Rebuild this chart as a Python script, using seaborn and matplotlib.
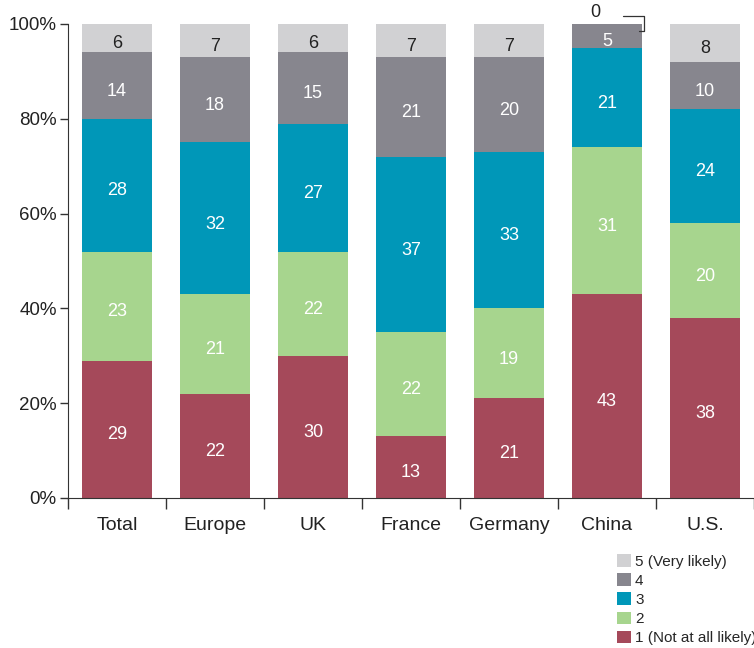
import numpy as np
import pandas as pd
import matplotlib
matplotlib.use("Agg")
import matplotlib.pyplot as plt
from matplotlib.ticker import FixedLocator, PercentFormatter
import seaborn as sns

# ----------------------------------------------------------
# DATA
# ----------------------------------------------------------
regions = ["Total", "Europe", "UK", "France", "Germany", "China", "U.S."]
levels = ["1 (Not at all likely)", "2", "3", "4", "5 (Very likely)"]

lvl1 = [29, 22, 30, 13, 21, 43, 38]
lvl2 = [23, 21, 22, 22, 19, 31, 20]
lvl3 = [28, 32, 27, 37, 33, 21, 24]
lvl4 = [14, 18, 15, 21, 20, 5, 10]
lvl5 = [6, 7, 6, 7, 7, 0, 8]

colors = ["#A5495A", "#A7D58E", "#0097B8", "#87868E", "#D1D1D3"]
label_colors = ["white", "white", "white", "white", "#222222"]

# ----------------------------------------------------------
# PLOT
# ----------------------------------------------------------
sns.set_style("ticks")
plt.rcParams["font.family"] = ["Liberation Sans", "DejaVu Sans"]

series = [lvl1, lvl2, lvl3, lvl4, lvl5]
cum = np.cumsum(np.array(series), axis=0)

fig = plt.figure(figsize=(7.54, 6.48), dpi=100)
ax = fig.add_axes([0.090, 0.2315, 0.91, 0.7315])

# draw cumulative layers from the top down so each covers the one above
for i in range(len(levels) - 1, -1, -1):
    df = pd.DataFrame({"region": regions, "value": cum[i]})
    sns.barplot(data=df, x="region", y="value", color=colors[i],
                width=0.72, saturation=1, ax=ax, label=levels[i],
                linewidth=0, edgecolor="none")

# segment labels
for i, vals in enumerate(series):
    for j, v in enumerate(vals):
        if v == 0:
            continue
        mid = cum[i][j] - v / 2
        ax.text(j, mid - 1.2, str(v), ha="center", va="center",
                color=label_colors[i], fontsize=13)

# China zero label with bracket
ci = regions.index("China")
ax.text(ci - 0.12, 100.6, "0", ha="center", va="bottom", fontsize=13, color="#222222")
ax.plot([ci + 0.16, ci + 0.38, ci + 0.38, ci + 0.33],
        [101.7, 101.7, 98.6, 98.6], color="#333333", lw=0.9, clip_on=False)

ax.set_xlim(-0.5, 6.5)
ax.set_ylim(0, 100)
ax.yaxis.set_major_locator(FixedLocator([0, 20, 40, 60, 80, 100]))
ax.yaxis.set_major_formatter(PercentFormatter(decimals=0))
ax.set_xticks(range(len(regions)))
ax.set_xticklabels(regions)
ax.xaxis.set_minor_locator(FixedLocator(np.arange(-0.5, 7, 1)))
ax.tick_params(axis="x", which="major", length=0, pad=14, labelsize=14, colors="#222222")
ax.tick_params(axis="x", which="minor", length=8, width=1, color="#333333")
ax.tick_params(axis="y", length=6, width=1, labelsize=13.5, colors="#333333", pad=2)
for lbl in ax.get_yticklabels():
    lbl.set_color("#222222")
ax.set_xlabel("")
ax.set_ylabel("")
sns.despine(ax=ax, top=True, right=True)
ax.spines["left"].set_color("#333333")
ax.spines["bottom"].set_color("#333333")

# legend in the order 5 .. 1 (top to bottom)
handles, labels = ax.get_legend_handles_labels()
if ax.get_legend() is not None:
    ax.get_legend().remove()
order = [labels.index(l) for l in levels[::-1]]
fig.legend([handles[k] for k in order], [labels[k] for k in order],
           loc="upper left", bbox_to_anchor=(0.818, 0.145), frameon=False,
           fontsize=11, handlelength=0.9, handleheight=0.9,
           handletextpad=0.3, labelspacing=0.3, borderaxespad=0, borderpad=0)

fig.savefig("out.png", dpi=100)
